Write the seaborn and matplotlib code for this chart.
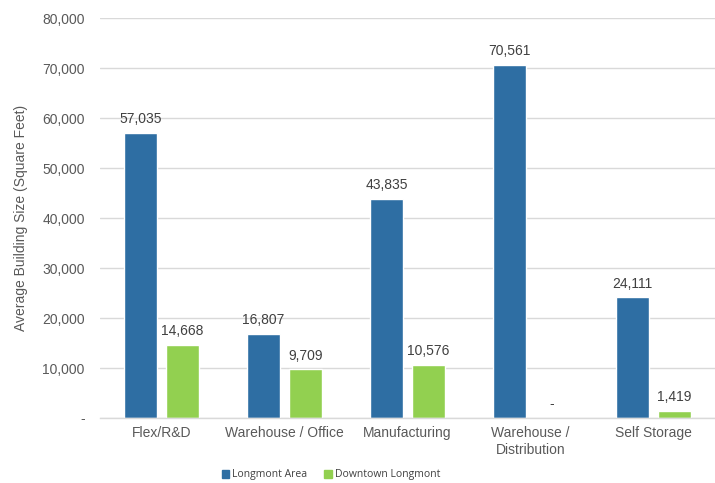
import matplotlib
matplotlib.use("Agg")
import matplotlib.pyplot as plt
import seaborn as sns
import pandas as pd
from matplotlib.ticker import FuncFormatter

categories = ["Flex/R&D", "Warehouse / Office", "Manufacturing", "Warehouse /\nDistribution", "Self Storage"]
longmont_area = [57035, 16807, 43835, 70561, 24111]
downtown_longmont = [14668, 9709, 10576, 0, 1419]
series_names = ["Longmont Area", "Downtown Longmont"]
colors = ["#2E6EA3", "#92D050"]

df = pd.DataFrame({
    "category": categories * 2,
    "series": [series_names[0]] * len(categories) + [series_names[1]] * len(categories),
    "value": longmont_area + downtown_longmont,
})

sns.set_theme(style="white")
plt.rcParams["font.family"] = ["Liberation Sans", "DejaVu Sans"]

fig = plt.figure(figsize=(7.15, 4.83), dpi=100)
ax = fig.add_axes([100 / 715, 1 - 418 / 483, 615 / 715, 400 / 483])

sns.barplot(data=df, x="category", y="value", hue="series", palette=colors,
            width=0.68, gap=0.2, ax=ax, legend=False, saturation=1)

ax.set_ylim(0, 80000)
ax.set_yticks(range(0, 80001, 10000))
ax.yaxis.set_major_formatter(FuncFormatter(lambda v, p: "-" if v == 0 else f"{int(v):,}"))
ax.grid(axis="y", color="#D9D9D9", linewidth=1)
ax.set_axisbelow(True)
for s in ["top", "right", "left"]:
    ax.spines[s].set_visible(False)
ax.spines["bottom"].set_color("#D9D9D9")
ax.spines["bottom"].set_linewidth(1)
ax.tick_params(axis="y", length=0, pad=11, labelsize=10, labelcolor="#595959")
ax.tick_params(axis="x", length=0, pad=6, labelsize=10, labelcolor="#595959")
ax.set_xlabel("")
ax.set_ylabel("Average Building Size (Square Feet)", fontsize=10, color="#595959", labelpad=10)
ax.set_xlim(-0.5, len(categories) - 0.5)

for container in ax.containers:
    labels = ["-" if b.get_height() == 0 else f"{int(b.get_height()):,}" for b in container]
    ax.bar_label(container, labels=labels, padding=5, fontsize=10, color="#404040")

handles = [plt.Rectangle((0, 0), 1, 1, color=c) for c in colors]
fig.legend(handles, series_names, loc="center", bbox_to_anchor=(331 / 715, 1 - 475 / 483),
           ncol=2, frameon=False, handlelength=0.7, handleheight=0.7,
           handletextpad=0.3, columnspacing=1.6,
           prop={"family": ["Open Sans", "DejaVu Sans"], "size": 7.5}, labelcolor="#404040")

fig.savefig("out.png", dpi=100)
